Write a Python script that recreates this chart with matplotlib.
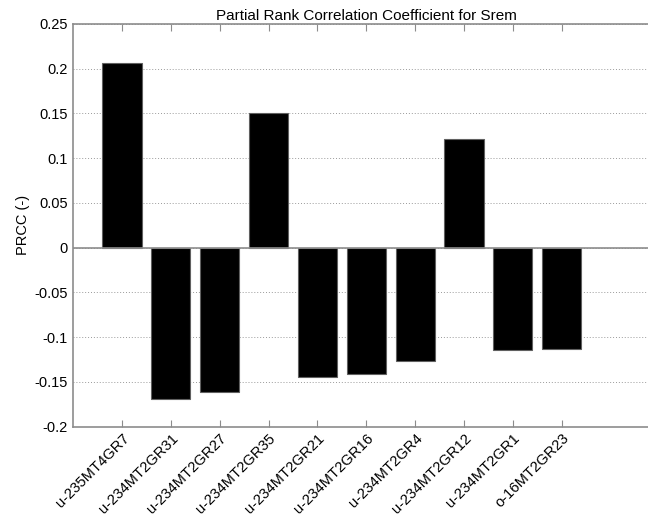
import matplotlib
matplotlib.use("Agg")
import matplotlib.pyplot as plt
from matplotlib.transforms import ScaledTranslation

plt.rcParams['font.family'] = ['Liberation Sans', 'DejaVu Sans']

# Parameter names and their partial rank correlation coefficients
params = ["u-235MT4GR7", "u-234MT2GR31", "u-234MT2GR27", "u-234MT2GR35",
          "u-234MT2GR21", "u-234MT2GR16", "u-234MT2GR4", "u-234MT2GR12",
          "u-234MT2GR1", "o-16MT2GR23"]
prcc = [0.206, -0.169, -0.1615, 0.151, -0.144, -0.1415, -0.127, 0.1215,
        -0.1145, -0.113]
yticks = [-0.2, -0.15, -0.1, -0.05, 0, 0.05, 0.1, 0.15, 0.2, 0.25]
ytick_labels = ["-0.2", "-0.15", "-0.1", "-0.05", "0", "0.05", "0.1", "0.15", "0.2", "0.25"]

W, H = 648, 516
fig = plt.figure(figsize=(W / 100, H / 100), dpi=100)
left, right, top, bottom = 73.15, 659.4, 24.0, 426.7
ax = fig.add_axes([left / W, 1 - bottom / H, (right - left) / W, (bottom - top) / H])

spine_col = '#8c8c8c'
x = list(range(1, len(params) + 1))
ax.bar(x, prcc, width=0.8, color='black', edgecolor='#606060', linewidth=0.8, zorder=3)
ax.axhline(0, color=spine_col, linewidth=1.2, zorder=4)

ax.set_xlim(0, 12)
ax.set_ylim(-0.2, 0.25)
ax.set_yticks(yticks)
ax.set_yticklabels(ytick_labels)
ax.set_xticks(x)
ax.set_xticklabels(params, rotation=45, ha='right', va='top', rotation_mode='anchor')
offset = ScaledTranslation(14 / 100, -9 / 100, fig.dpi_scale_trans)
for lbl in ax.get_xticklabels():
    lbl.set_transform(lbl.get_transform() + offset)
    lbl.set_fontsize(10.6)

ax.yaxis.grid(True, linestyle=(0, (1, 2)), color='#9a9a9a', linewidth=0.7)
ax.set_axisbelow(True)

for s in ax.spines.values():
    s.set_color(spine_col)
    s.set_linewidth(1.2)

ax.tick_params(axis='x', direction='in', length=5, color=spine_col, top=True, pad=3)
ax.tick_params(axis='y', direction='in', length=0, color=spine_col,
               labelsize=10.5, pad=4)

ax.set_title("Partial Rank Correlation Coefficient for Srem", fontsize=11, pad=3)
ax.set_ylabel("PRCC (-)", fontsize=10.5, labelpad=3)

fig.savefig("out.png", dpi=100)
